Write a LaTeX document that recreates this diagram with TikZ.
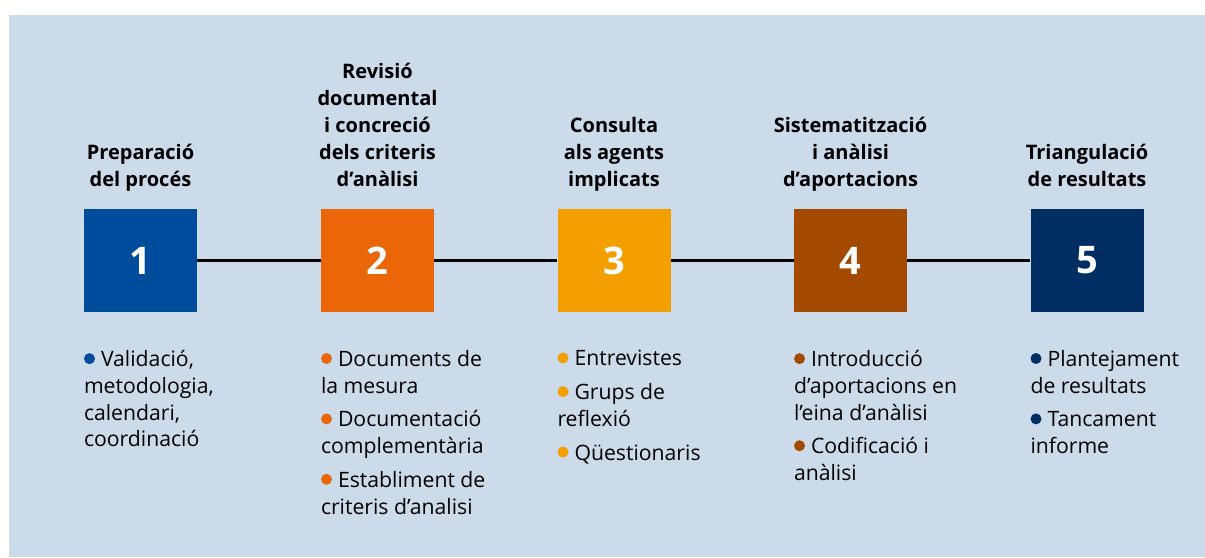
\documentclass[tikz,border=0pt]{standalone}
\usepackage{fontspec}
\setmainfont{Open Sans}
\usetikzlibrary{positioning}

\definecolor{bgblue}{HTML}{CBDBEA}
\definecolor{phaseA}{HTML}{004C9C}
\definecolor{phaseB}{HTML}{EB6609}
\definecolor{phaseC}{HTML}{F39F00}
\definecolor{phaseD}{HTML}{A34A00}
\definecolor{phaseE}{HTML}{002E63}

% coloured dot in front of each item
\newcommand{\bul}[1]{\tikz[baseline={(0pt,-8pt)}]\fill[#1] (0pt,0pt) circle (5.5pt);\hspace{6pt}}

\tikzset{
	phasebox/.style={minimum width=113pt, minimum height=103pt, inner sep=0pt,
		text=white, font=\fontsize{38}{38}\selectfont\bfseries},
	phasetitle/.style={align=center, inner sep=0pt, text depth=0pt,
		font=\fontsize{20}{27}\selectfont\bfseries},
	phaseitems/.style={align=left, inner sep=0pt,
		font=\fontsize{21.2}{26.7}\selectfont},
	link/.style={black, line width=2.4pt}
}

\begin{document}
\begin{tikzpicture}[x=1pt, y=-1pt]
		\useasboundingbox (0, 0) rectangle (1205, 557);
		\fill[white] (0, 0) rectangle (1205, 557);
		\fill[bgblue] (9, 15) rectangle (1205, 557);

		% Draw phase boxes
		\node[phasebox, fill=phaseA] (p1) at (140.5, 260.5) {1};
		\node[phasebox, fill=phaseB] (p2) at (377.5, 260.5) {2};
		\node[phasebox, fill=phaseC] (p3) at (614, 260.5) {3};
		\node[phasebox, fill=phaseD] (p4) at (850.5, 260.5) {4};
		\node[phasebox, fill=phaseE] (p5) at (1087, 260.5) {5};

		% Draw links
		\draw[link] (p1) -- (p2);
		\draw[link] (p2) -- (p3);
		\draw[link] (p3) -- (p4);
		\draw[link] (p4) -- (p5);

		% Titles
		\node[phasetitle, above=22pt of p1] (t1) {Preparació\\del procés};
		\node[phasetitle, above=22pt of p2] (t2) {Revisió\\documental\\i concreció\\dels criteris\\d’anàlisi};
		\node[phasetitle, above=22pt of p3] (t3) {Consulta\\als agents\\implicats};
		\node[phasetitle, above=22pt of p4] (t4) {Sistematització\\i anàlisi\\d’aportacions};
		\node[phasetitle, above=22pt of p5] (t5) {Triangulació\\de resultats};

		% Items
		\node[phaseitems, below right=38pt and 0pt of p1.south west] (i1)
			{\bul{phaseA}Validació,\\metodologia,\\calendari,\\coordinació};
		\node[phaseitems, below right=38pt and 0pt of p2.south west] (i2)
			{\bul{phaseB}Documents de\\la mesura\\[7pt]\bul{phaseB}Documentació\\complementària\\[7pt]\bul{phaseB}Establiment de\\criteris d’analisi};
		\node[phaseitems, below right=38pt and 0pt of p3.south west] (i3)
			{\bul{phaseC}Entrevistes\\[7pt]\bul{phaseC}Grups de\\reflexió\\[7pt]\bul{phaseC}Qüestionaris};
		\node[phaseitems, below right=38pt and 0pt of p4.south west] (i4)
			{\bul{phaseD}Introducció\\d’aportacions en\\l’eina d’anàlisi\\[7pt]\bul{phaseD}Codificació i\\anàlisi};
		\node[phaseitems, below right=38pt and 0pt of p5.south west] (i5)
			{\bul{phaseE}Plantejament\\de resultats\\[7pt]\bul{phaseE}Tancament\\informe};
	\end{tikzpicture}
\end{document}
